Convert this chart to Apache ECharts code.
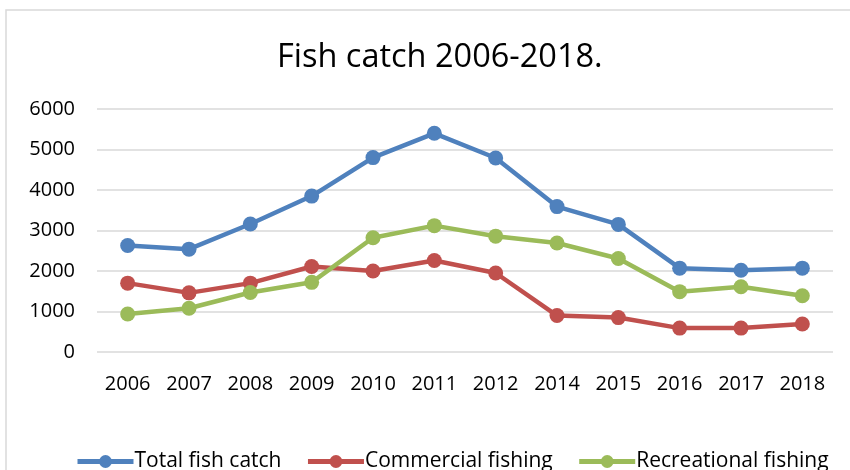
<!DOCTYPE html>
<html>
<head>
<meta charset="utf-8">
<script src="https://cdn.jsdelivr.net/npm/echarts@6/dist/echarts.min.js"></script>
<style>
  html, body { margin: 0; padding: 0; background: #fff; }
  #chart { width: 850px; height: 470px; }
</style>
</head>
<body>
<div id="chart"></div>
<script>
// Annual fish catch, by sector
const years = ['2006', '2007', '2008', '2009', '2010', '2011', '2012', '2014', '2015', '2016', '2017', '2018'];
const totalCatch = [2630, 2540, 3160, 3850, 4800, 5400, 4790, 3590, 3150, 2070, 2020, 2070];
const commercialFishing = [1700, 1460, 1700, 2110, 2000, 2260, 1950, 900, 850, 590, 590, 690];
const recreationalFishing = [940, 1080, 1470, 1720, 2820, 3120, 2860, 2690, 2310, 1490, 1610, 1390];
const yTicks = [0, 1000, 2000, 3000, 4000, 5000, 6000];

const font = '"Open Sans", "Noto Sans", sans-serif';

function lineSeries(name, data, color) {
  return {
    name: name,
    type: 'line',
    data: data,
    symbol: 'circle',
    symbolSize: 15,
    lineStyle: { width: 4.5, color: color },
    itemStyle: { color: color },
    emphasis: { disabled: true },
    animation: false
  };
}

const chart = echarts.init(document.getElementById('chart'), null, { renderer: 'canvas' });
chart.setOption({
  backgroundColor: '#fff',
  animation: false,
  graphic: [{
    type: 'rect',
    shape: { x: 6, y: 10, width: 900, height: 500 },
    style: { fill: 'none', stroke: '#d9d9d9', lineWidth: 1.5 },
    silent: true,
    z: -1
  }],
  title: {
    text: 'Fish catch 2006-2018.',
    left: 272,
    top: 36,
    textStyle: { fontFamily: font, fontWeight: 'normal', fontSize: 32.5, color: '#000' }
  },
  grid: { left: 97, right: 17, top: 109, bottom: 118 },
  legend: {
    bottom: -7,
    left: 70,
    itemWidth: 56,
    itemHeight: 16,
    itemGap: 24,
    lineStyle: { width: 5 },
    textStyle: { fontFamily: font, fontSize: 21, color: '#000', padding: [0, 0, 0, -4] },
    data: ['Total fish catch', 'Commercial fishing', 'Recreational fishing']
  },
  xAxis: {
    type: 'category',
    data: years,
    boundaryGap: true,
    axisLine: { show: false },
    axisTick: { show: false },
    axisLabel: { fontFamily: font, fontSize: 20, color: '#000', margin: 22 }
  },
  yAxis: {
    type: 'value',
    min: yTicks[0],
    max: yTicks[yTicks.length - 1],
    interval: 1000,
    axisLine: { show: false },
    axisTick: { show: false },
    axisLabel: { fontFamily: font, fontSize: 20, color: '#000', margin: 22, formatter: v => String(v) },
    splitLine: { lineStyle: { color: '#d9d9d9', width: 1.5 } }
  },
  series: [
    lineSeries('Total fish catch', totalCatch, '#4F81BD'),
    lineSeries('Commercial fishing', commercialFishing, '#C0504D'),
    lineSeries('Recreational fishing', recreationalFishing, '#9BBB59')
  ]
});
</script>
</body>
</html>
